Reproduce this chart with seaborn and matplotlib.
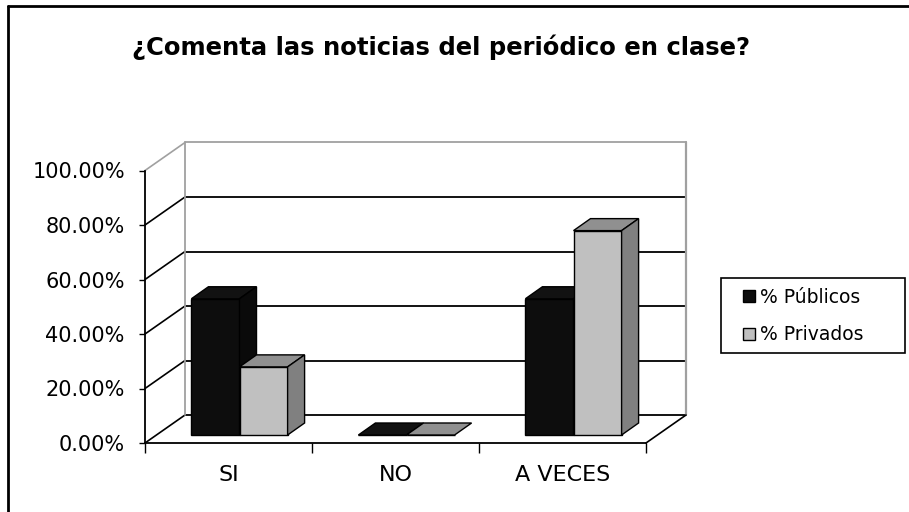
import numpy as np
import pandas as pd
import matplotlib
matplotlib.use('Agg')
import matplotlib.pyplot as plt
import matplotlib.transforms as mtransforms
from matplotlib.patches import Polygon, Patch, Rectangle
from matplotlib.lines import Line2D
import seaborn as sns

# Chart data
categories = ['SI', 'NO', 'A VECES']
publicos = [50, 0, 50]
privados = [25, 0, 75]
series = ['% Públicos', '% Privados']
yticks = [0, 20, 40, 60, 80, 100]
title = '¿Comenta las noticias del periódico en clase?'

front_colors = ['#0d0d0d', '#c0c0c0']
top_colors = ['#121212', '#909090']
side_colors = ['#0a0a0a', '#808080']

df = pd.DataFrame({
    'Respuesta': categories * 2,
    'Valor': publicos + privados,
    'Serie': [series[0]] * len(categories) + [series[1]] * len(categories),
})

sns.set_theme(style='white')
plt.rcParams['font.family'] = ['DejaVu Sans']
plt.rcParams['text.color'] = 'black'

W, H = 909, 512
fig = plt.figure(figsize=(W / 100, H / 100), dpi=100)
ax = fig.add_axes([145 / W, 1 - 443 / H, 501 / W, 272.5 / H])

sns.barplot(data=df, x='Respuesta', y='Valor', hue='Serie', palette=front_colors,
            width=0.576, gap=0, saturation=1, errorbar=None, legend=False,
            edgecolor='black', linewidth=1, ax=ax)
ax.set_xlim(-0.5, 2.5)
ax.set_ylim(0, 100)


def shift(x, y, dx, dy):
    # move a data point by (dx, dy) pixels, back to data coords
    px = ax.transData.transform((x, y))
    return ax.transData.inverted().transform(px + np.array([dx, dy]))


back = (40, 28)   # depth of the floor / walls in pixels
front = (11, 8)   # bars sit a little inside the box
deep = (28, 20)   # back face of the bars

# side wall diagonals and back wall gridlines
for v in yticks:
    col = '#a0a0a0' if v == yticks[-1] else 'black'
    b0 = shift(-0.5, v, *back)
    b1 = shift(2.5, v, *back)
    ax.plot([-0.5, b0[0]], [v, b0[1]], color=col, lw=1.2, clip_on=False, zorder=1)
    ax.plot([b0[0], b1[0]], [b0[1], b1[1]], color=col, lw=1.3, clip_on=False, zorder=1)

bl0, bl1 = shift(-0.5, 0, *back), shift(-0.5, 100, *back)
br0, br1 = shift(2.5, 0, *back), shift(2.5, 100, *back)
ax.plot([bl0[0], bl1[0]], [bl0[1], bl1[1]], color='#a0a0a0', lw=1.3, clip_on=False, zorder=1)
ax.plot([br0[0], br1[0]], [br0[1], br1[1]], color='#a0a0a0', lw=1.6, clip_on=False, zorder=1)
ax.plot([2.5, br0[0]], [0, br0[1]], color='black', lw=1.2, clip_on=False, zorder=1)

# 3D bars: shift seaborn's front faces, add top and side faces
n = len(categories)
off = mtransforms.offset_copy(ax.transData, fig=fig, x=front[0], y=front[1], units='dots')
for i, p in enumerate(list(ax.patches)):
    k = i // n
    z = 3 + k
    p.set_transform(off)
    p.set_zorder(z)
    p.set_clip_on(False)
    x0 = p.get_x()
    x1 = x0 + p.get_width()
    h = p.get_height()
    top = [shift(x0, h, *front), shift(x1, h, *front), shift(x1, h, *deep), shift(x0, h, *deep)]
    side = [shift(x1, 0, *front), shift(x1, 0, *deep), shift(x1, h, *deep), shift(x1, h, *front)]
    ax.add_patch(Polygon(top, closed=True, facecolor=top_colors[k], edgecolor='black',
                         lw=1, zorder=z, clip_on=False))
    if h > 0:
        ax.add_patch(Polygon(side, closed=True, facecolor=side_colors[k], edgecolor='black',
                             lw=1, zorder=z, clip_on=False))

# axes styling
for s in ['top', 'right']:
    ax.spines[s].set_visible(False)
for s in ['left', 'bottom']:
    ax.spines[s].set_color('black')
    ax.spines[s].set_linewidth(1.3)
    ax.spines[s].set_zorder(2)

ax.set_yticks(yticks, [f'{v:.2f}%' for v in yticks])
ax.set_xticks(range(n), categories)
ax.set_xticks([i - 0.5 for i in range(n + 1)], minor=True)
ax.tick_params(axis='y', left=True, length=4.5, width=1, color='black', pad=10,
               labelsize=15, labelcolor='black')
ax.tick_params(axis='x', which='major', bottom=True, length=0, pad=16,
               labelsize=16, labelcolor='black')
ax.tick_params(axis='x', which='minor', bottom=True, length=7, width=1, color='black')
ax.set_xlabel('')
ax.set_ylabel('')

# legend: box drawn separately, entries placed inside
fig.add_artist(Rectangle((721 / W, 1 - 353 / H), 184 / W, 75 / H, transform=fig.transFigure,
                         facecolor='white', edgecolor='black', lw=1.2))
handles = [Patch(facecolor=c, edgecolor='black', label=s) for c, s in zip(front_colors, series)]
leg = fig.legend(handles=handles, loc='center left',
                 bbox_to_anchor=(743 / W, 1 - 316 / H),
                 frameon=False, fontsize=13.5, labelcolor='black',
                 handlelength=0.65, handleheight=0.65, handletextpad=0.25,
                 labelspacing=1.0, borderpad=0, borderaxespad=0)

fig.text(441 / W, 1 - 47 / H, title, ha='center', va='center', fontsize=17.5,
         fontweight='bold', color='black')

# outer chart border (left and top only visible)
fig.add_artist(Line2D([8 / W, 8 / W], [0, 1 - 6 / H], transform=fig.transFigure, color='black', lw=2))
fig.add_artist(Line2D([8 / W, 1], [1 - 6 / H, 1 - 6 / H], transform=fig.transFigure, color='black', lw=2))

fig.savefig('out.png', dpi=100)
